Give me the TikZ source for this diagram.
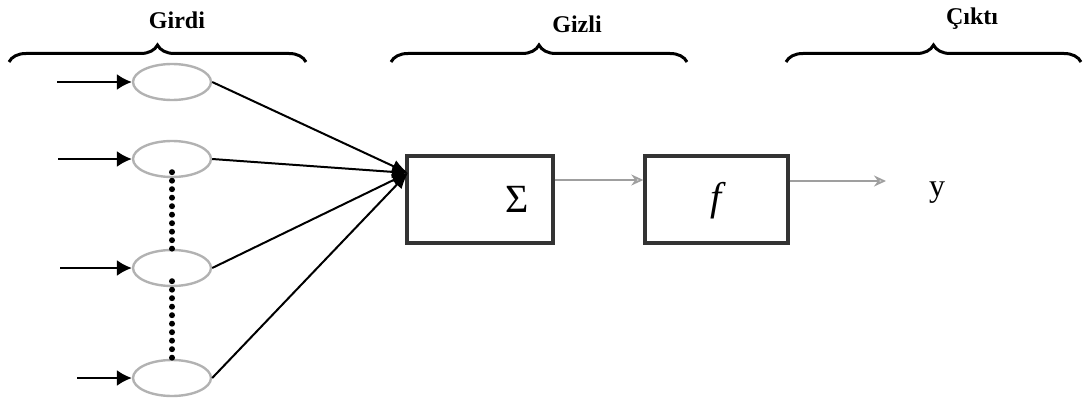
\documentclass[tikz,border=0pt]{standalone}
\usepackage{fontspec}
\setmainfont{Liberation Serif}
\usetikzlibrary{arrows.meta,decorations.pathreplacing,shapes.geometric}
\begin{document}
\begin{tikzpicture}[x=1pt,y=-1pt,
  neuron/.style={ellipse, draw=gray!60, line width=2.4pt, minimum width=78pt, minimum height=36pt, inner sep=0pt},
  block/.style={draw=black!80, line width=3.4pt, inner sep=0pt},
  title/.style={font=\fontsize{24}{28}\selectfont\bfseries, anchor=base},
  bracestyle/.style={decorate, decoration={brace, amplitude=17pt}, line width=3pt},
  inarrow/.style={line width=2pt, -{Latex[length=15pt,width=16pt]}},
  convarrow/.style={line width=2pt, -{Latex[length=16pt,width=13pt]}},
  grayarrow/.style={draw=gray!75, line width=1.6pt, -{Stealth[length=12pt,width=11pt,fill=gray!35]}},
  dots/.style={line width=6pt, line cap=round, dash pattern=on 0pt off 8.5pt}
]
\useasboundingbox (0,0) rectangle (1087,404);

% titles
\node[title] (tIn) at (177,29) {Girdi};
\node[title] (tHid) at (577,33) {Gizli};
\node[title] (tOut) at (972,25) {Çıktı};

% braces
\draw[bracestyle] (9,62) -- (306,62);
\draw[bracestyle] (391,62) -- (687,62);
\draw[bracestyle] (786,62) -- (1081,62);

% input neurons
\node[neuron] (n1) at (172,82) {};
\node[neuron] (n2) at (172,159) {};
\node[neuron] (n3) at (172,268) {};
\node[neuron] (n4) at (172,378) {};

% input arrows
\coordinate (i1) at (57,82);
\coordinate (i2) at (58,159);
\coordinate (i3) at (60,268);
\coordinate (i4) at (77,378);
\draw[inarrow] (i1) -- (n1.west);
\draw[inarrow] (i2) -- (n2.west);
\draw[inarrow] (i3) -- (n3.west);
\draw[inarrow] (i4) -- (n4.west);

% dotted links
\draw[dots] ([yshift=6pt]n2.south) -- ([yshift=-4pt]n3.north);
\draw[dots] ([yshift=6pt]n3.south) -- ([yshift=-4pt]n4.north);

% hidden blocks
\node[block, minimum width=146pt, minimum height=87pt] (sum) at (480,199.5) {};
\node[font=\fontsize{40}{44}\selectfont, anchor=base] (sig) at (517,212) {Σ};
\node[block, minimum width=143pt, minimum height=87pt] (fb) at (716.5,199.5) {};
\node[font=\fontsize{40}{44}\selectfont\itshape, anchor=base] (fl) at (716.5,210) {f};

% convergence
\coordinate (c) at (408,173);
\draw[convarrow] (n1.east) -- (c);
\draw[convarrow] (n2.east) -- (c);
\draw[convarrow] (n3.east) -- (c);
\draw[convarrow] (n4.east) -- (c);

% gray arrows
\draw[grayarrow] (sum.east |- 0,180) -- (fb.west |- 0,180);
\coordinate (yend) at (886,181);
\draw[grayarrow] (fb.east |- 0,181) -- (yend);

% output
\node[font=\fontsize{32}{36}\selectfont, anchor=base] (yout) at (937,196) {y};
\end{tikzpicture}
\end{document}
